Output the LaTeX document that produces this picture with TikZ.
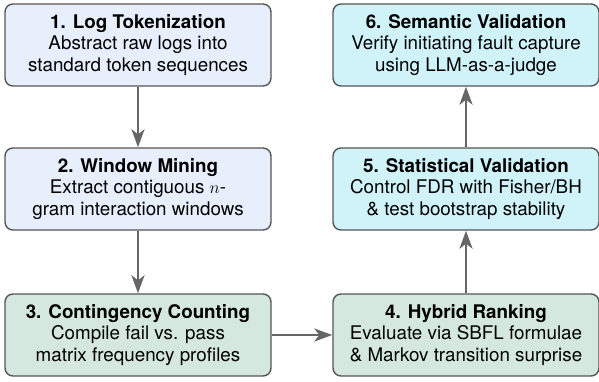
\documentclass[tikz,border=0pt]{standalone}
\usepackage{fontspec}
\setmainfont{TeX Gyre Heros}
\usetikzlibrary{arrows.meta}
\definecolor{boxblue}{HTML}{E8EFFC}
\definecolor{boxgreen}{HTML}{D4E8DF}
\definecolor{boxcyan}{HTML}{D0F3FA}
\definecolor{borderc}{HTML}{555555}
\definecolor{arrowc}{HTML}{666666}
\tikzset{
  stage/.style={draw=borderc, line width=1.4pt, rounded corners=8pt,
    minimum width=266pt, minimum height=82pt, align=center, inner sep=2pt,
    font=\fontsize{18.8}{21.8}\selectfont},
  conn/.style={draw=arrowc, line width=2.6pt,
    -{Stealth[length=18pt,width=13pt,inset=5pt]}}
}
\begin{document}
\begin{tikzpicture}[x=1pt,y=1pt]
\useasboundingbox (0,0) rectangle (599,381);
\node[stage, fill=boxblue] (s1) at (138,336) {\textbf{1. Log Tokenization}\\Abstract raw logs into\\standard token sequences};
\node[stage, fill=boxblue] (s2) at (138,192) {\textbf{2. Window Mining}\\Extract contiguous $n$-\\gram interaction windows};
\node[stage, fill=boxgreen] (s3) at (138,46) {\textbf{3. Contingency Counting}\\Compile fail vs. pass\\matrix frequency profiles};
\node[stage, fill=boxgreen] (s4) at (466,46) {\textbf{4. Hybrid Ranking}\\Evaluate via SBFL formulae\\\& Markov transition surprise};
\node[stage, fill=boxcyan] (s5) at (466,192) {\textbf{5. Statistical Validation}\\Control FDR with Fisher/BH\\\& test bootstrap stability};
\node[stage, fill=boxcyan] (s6) at (466,336) {\textbf{6. Semantic Validation}\\Verify initiating fault capture\\using LLM-as-a-judge};
\draw[conn] (s1) -- (s2);
\draw[conn] (s2) -- (s3);
\draw[conn] (s3) -- (s4);
\draw[conn] (s4) -- (s5);
\draw[conn] (s5) -- (s6);
\end{tikzpicture}
\end{document}
